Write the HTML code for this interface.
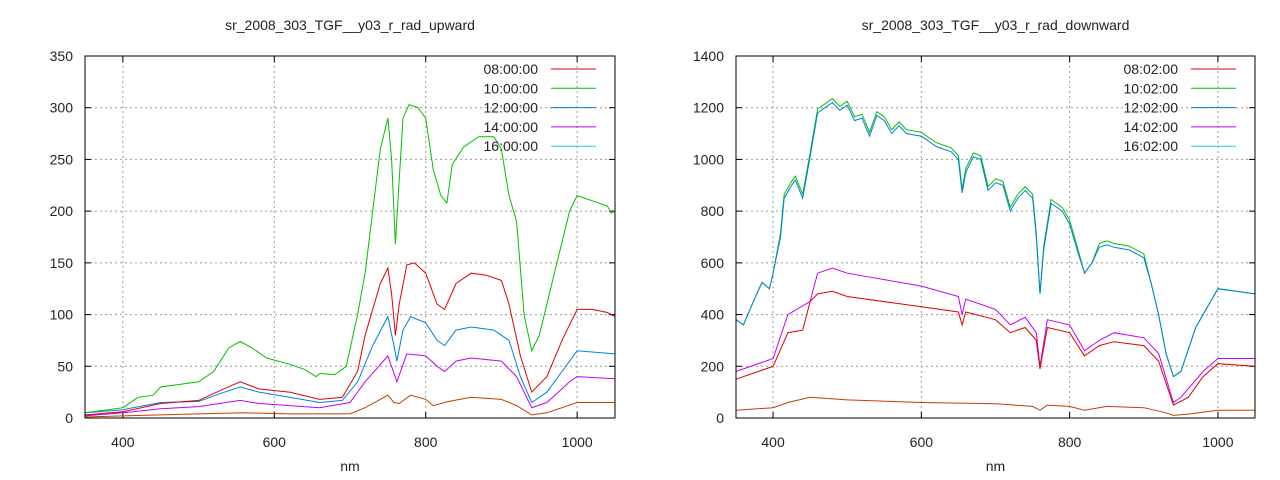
<!DOCTYPE html>
<html><head><style>body{margin:0;background:#fff}svg{display:block}text{font-family:"Liberation Sans",sans-serif;font-size:14px;fill:#222}</style></head>
<body>
<svg id="s" width="1280" height="480" xmlns="http://www.w3.org/2000/svg"></svg>
<script>
const S=document.getElementById('s');let h='';
function plot(L,R,ymax,ystep,title,labels,series){
 const T=56,B=418;const X=v=>L+(v-350)*(R-L)/700, Y=v=>B-v*(B-T)/ymax;
 h+=`<text x="${(L+R)/2}" y="30" text-anchor="middle">${title}</text>`;
 h+=`<text x="${(L+R)/2}" y="471" text-anchor="middle">nm</text>`;
 for(let v=0;v<=ymax;v+=ystep){const y=Y(v);
  if(v>0&&v<ymax)h+=`<line x1="${L}" x2="${R}" y1="${y}" y2="${y}" stroke="#999" stroke-dasharray="2,3"/>`;
  h+=`<line x1="${L}" x2="${L+6}" y1="${y}" y2="${y}" stroke="#000"/><line x1="${R-6}" x2="${R}" y1="${y}" y2="${y}" stroke="#000"/>`;
  h+=`<text x="${L-12}" y="${y+5}" text-anchor="end">${v}</text>`;}
 for(let v=400;v<=1000;v+=200){const x=X(v);
  h+=`<line x1="${x}" x2="${x}" y1="${T}" y2="${B}" stroke="#999" stroke-dasharray="2,3"/>`;
  h+=`<line x1="${x}" x2="${x}" y1="${B-6}" y2="${B}" stroke="#000"/><line x1="${x}" x2="${x}" y1="${T}" y2="${T+6}" stroke="#000"/>`;
  h+=`<text x="${x}" y="${B+29}" text-anchor="middle">${v}</text>`;}
 series.forEach(([c,d])=>{let p=[];for(let i=0;i<d.length;i+=2)p.push(X(d[i]).toFixed(1)+','+Y(d[i+1]).toFixed(1));
  h+=`<polyline fill="none" stroke="${c}" stroke-width="1" points="${p.join(' ')}"/>`;});
 h+=`<rect x="${L}" y="${T}" width="${R-L}" height="${B-T}" fill="none" stroke="#000"/>`;
 const cols=['#e00000','#00c000','#0080e0','#c000ff','#20d0e0'];
 labels.forEach((t,i)=>{const y=69+i*19.3;h+=`<text x="${R-77}" y="${y+5}" text-anchor="end">${t}</text><line x1="${R-64}" x2="${R-19}" y1="${y}" y2="${y}" stroke="${cols[i]}"/>`;});
}
plot(85,615,350,50,'sr_2008_303_TGF__y03_r_rad_upward',['08:00:00','10:00:00','12:00:00','14:00:00','16:00:00'],[
['#c04000',[350,1,400,2,450,3,500,4,560,5,620,4,700,4,720,10,750,22,758,15,765,14,780,22,800,18,810,12,830,16,860,20,900,18,920,12,940,3,960,5,1000,15,1050,15]],
['#c000ff',[350,2,400,5,450,9,500,11,555,17,580,14,620,12,660,10,700,15,720,35,750,60,762,35,775,62,800,60,815,50,825,45,840,55,860,58,900,55,920,40,940,10,960,15,990,35,1000,40,1050,38]],
['#0080e0',[350,5,400,8,450,15,500,16,530,24,555,30,580,25,620,20,660,15,690,17,710,35,730,70,750,98,758,70,762,55,770,85,780,98,800,92,815,75,825,70,840,85,860,88,890,85,910,75,925,40,940,15,960,25,980,45,1000,65,1050,62]],
['#e00000',[350,3,400,6,450,14,500,17,530,27,555,35,580,28,620,25,660,18,690,20,710,45,720,80,740,130,750,145,755,120,760,80,765,110,775,148,785,150,800,140,815,110,825,105,840,130,860,140,880,138,900,133,910,110,925,60,940,25,960,40,980,75,1000,105,1020,105,1040,102,1050,98]],
['#00c000',[350,5,400,10,420,20,440,22,450,30,480,33,500,35,520,45,540,68,555,74,570,68,590,58,620,52,640,47,655,40,660,43,680,42,695,50,710,100,720,140,730,200,740,260,750,290,755,250,760,168,765,230,770,290,778,303,790,300,800,290,810,240,820,215,828,208,835,245,850,262,870,272,890,272,900,260,910,215,920,190,930,100,940,65,950,80,970,140,990,200,1000,215,1020,210,1040,205,1045,198,1050,200]]]);
const gb=[350,380,360,360,375,460,385,525,395,500,400,560,410,700,415,850,425,900,430,920,440,850,450,1010,460,1180,470,1200,480,1220,490,1190,500,1210,510,1150,520,1160,530,1090,540,1170,550,1150,560,1100,570,1130,580,1100,600,1090,620,1050,640,1030,650,1000,655,870,660,950,670,1010,680,1000,690,880,700,910,710,900,720,800,730,850,740,880,750,850,755,700,760,480,765,650,775,830,790,800,800,750,810,650,820,560,830,600,840,660,850,670,860,660,880,650,900,620,910,520,920,400,930,250,940,160,950,180,970,350,990,450,1000,500,1050,480];
const gg=gb.map((v,i)=>i%2&&v>600?v+15:v);
plot(736,1255,1400,200,'sr_2008_303_TGF__y03_r_rad_downward',['08:02:00','10:02:00','12:02:00','14:02:00','16:02:00'],[
['#c04000',[350,30,400,40,420,60,450,80,500,70,600,60,700,55,750,45,760,30,770,50,800,45,820,30,850,45,900,40,930,20,940,10,960,15,1000,30,1050,30]],
['#c000ff',[350,180,400,230,420,400,450,450,460,560,480,580,500,560,600,510,650,470,655,400,660,460,700,420,720,360,740,390,755,330,760,200,770,380,800,360,820,260,840,300,860,330,900,310,920,250,940,60,950,80,980,180,1000,230,1050,230]],
['#e00000',[350,150,400,200,420,330,440,340,450,450,460,480,480,490,500,470,600,430,650,410,655,360,660,410,700,380,720,330,740,350,755,300,760,190,770,350,800,330,820,240,840,280,860,295,900,280,920,220,940,50,960,80,980,160,1000,210,1050,200]],
['#00c000',gg],['#0080e0',gb]]);
S.innerHTML=h;
</script>
</body></html>
